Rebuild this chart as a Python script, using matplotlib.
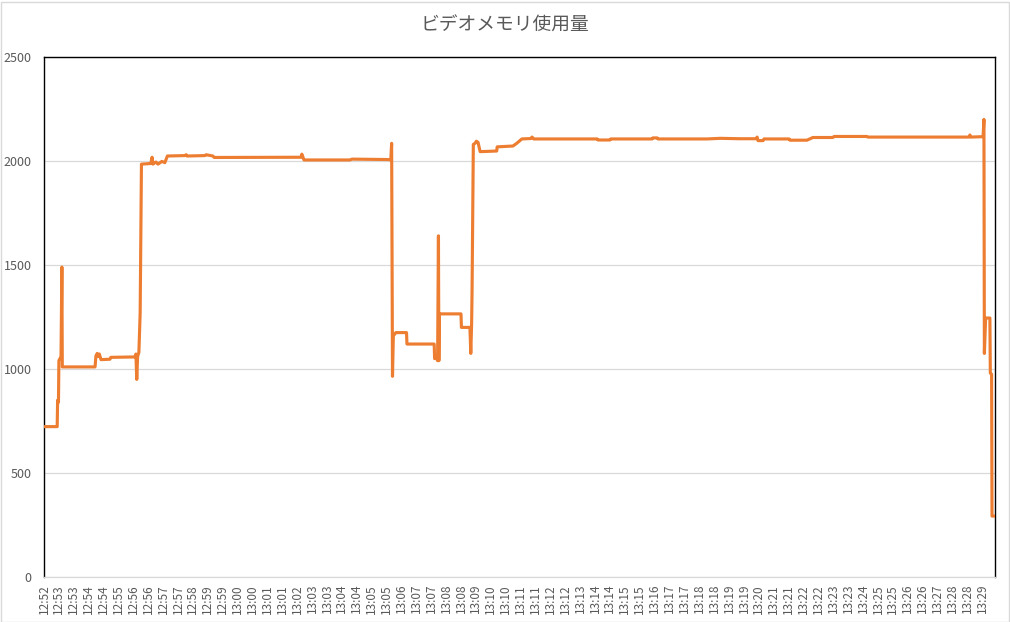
import numpy as np
import matplotlib
matplotlib.use('Agg')
import matplotlib.pyplot as plt
from matplotlib.patches import Rectangle

plt.rcParams['font.family'] = ['Noto Sans CJK JP', 'DejaVu Sans']

##### data
# seconds since the first sample, and video memory in MB
t_sec = [0, 31, 32, 34, 35, 40, 42, 43, 120, 122, 125, 128, 130, 134, 155, 157,
         214, 216, 218, 220, 223, 226, 229, 251, 254, 256, 263, 268, 277, 284,
         290, 331, 334, 336, 378, 381, 397, 400, 604, 606, 611, 719, 724, 808,
         815, 817, 819, 821, 827, 852, 853, 917, 918, 921, 925, 927, 928, 929,
         980, 981, 1001, 1003, 1005, 1006, 1009, 1013, 1016, 1020, 1025, 1064,
         1065, 1102, 1111, 1123, 1144, 1147, 1151, 1300, 1302, 1330, 1332,
         1429, 1431, 1441, 1443, 1558, 1589, 1636, 1673, 1676, 1678, 1690,
         1692, 1751, 1753, 1793, 1807, 1854, 1857, 1934, 1936, 2174, 2176,
         2178, 2207, 2209, 2210, 2213, 2223, 2224, 2227, 2228, 2235]
mem_mb = [723, 723, 850, 840, 1040, 1060, 1490, 1010, 1010, 1062, 1075, 1060,
          1072, 1045, 1047, 1056, 1058, 1072, 950, 1060, 1080, 1270, 1985,
          1988, 2018, 1985, 1995, 1985, 1998, 1992, 2024, 2026, 2030, 2024,
          2026, 2030, 2024, 2017, 2018, 2033, 2005, 2005, 2009, 2007, 2005,
          2085, 965, 1160, 1175, 1175, 1120, 1120, 1050, 1060, 1040, 1640,
          1040, 1265, 1265, 1200, 1200, 1075, 1220, 1372, 2080, 2085, 2095,
          2090, 2045, 2048, 2068, 2072, 2085, 2106, 2108, 2115, 2106, 2106,
          2101, 2101, 2106, 2106, 2111, 2111, 2106, 2106, 2109, 2107, 2107,
          2115, 2098, 2098, 2106, 2106, 2100, 2100, 2113, 2113, 2118, 2118,
          2115, 2115, 2125, 2115, 2117, 2200, 1075, 1245, 1245, 980, 975, 293,
          293]

# category labels shown under the axis, one every 35 samples
time_labels = ['12:52', '12:53', '12:53', '12:54', '12:54', '12:55', '12:56',
               '12:56', '12:57', '12:57', '12:58', '12:59', '12:59', '13:00',
               '13:00', '13:01', '13:01', '13:02', '13:03', '13:03', '13:04',
               '13:04', '13:05', '13:05', '13:06', '13:07', '13:07', '13:08',
               '13:08', '13:09', '13:10', '13:10', '13:11', '13:11', '13:12',
               '13:12', '13:13', '13:14', '13:14', '13:15', '13:15', '13:16',
               '13:17', '13:17', '13:18', '13:18', '13:19', '13:19', '13:20',
               '13:21', '13:21', '13:22', '13:22', '13:23', '13:23', '13:24',
               '13:25', '13:25', '13:26', '13:26', '13:27', '13:28', '13:28',
               '13:29']
label_step = 35
y_ticks = [0, 500, 1000, 1500, 2000, 2500]

#----------------------------------------------------------
text_col = '#595959'
grid_col = '#d9d9d9'

fig = plt.figure(figsize=(10.1, 6.22), dpi=100)
ax = fig.add_axes([44/1010, 1-577/622, (995-44)/1010, (577-57)/622])

ax.plot(t_sec, mem_mb, color='#ED7D31', linewidth=2.25,
        solid_joinstyle='round', solid_capstyle='round', zorder=3)

ax.set_xlim(0, t_sec[-1])
ax.set_ylim(0, 2500)
ax.set_yticks(y_ticks)
ax.set_yticklabels([str(v) for v in y_ticks])
ax.set_xticks(np.arange(len(time_labels)) * label_step)
ax.set_xticklabels(time_labels, rotation=90)

ax.grid(axis='y', color=grid_col, linewidth=0.9, zorder=0)
ax.tick_params(axis='y', length=0, pad=9, labelsize=9, labelcolor=text_col)
ax.tick_params(axis='x', length=0, pad=5, labelsize=8.5, labelcolor=text_col)

for side in ['left', 'top', 'right']:
    ax.spines[side].set_color('black')
    ax.spines[side].set_linewidth(1.0)
ax.spines['bottom'].set_color(grid_col)
ax.spines['bottom'].set_linewidth(0.9)

fig.text(0.5, 1-25/622, 'ビデオメモリ使用量', ha='center', va='center',
         fontsize=13.5, color=text_col)

# chart area border
fig.patches.append(Rectangle((0.5/1010, 0.5/622), 1-2/1010, 1-2/622,
                             transform=fig.transFigure, fill=False,
                             edgecolor=grid_col, linewidth=1.0))

fig.savefig('out.png', dpi=100)
